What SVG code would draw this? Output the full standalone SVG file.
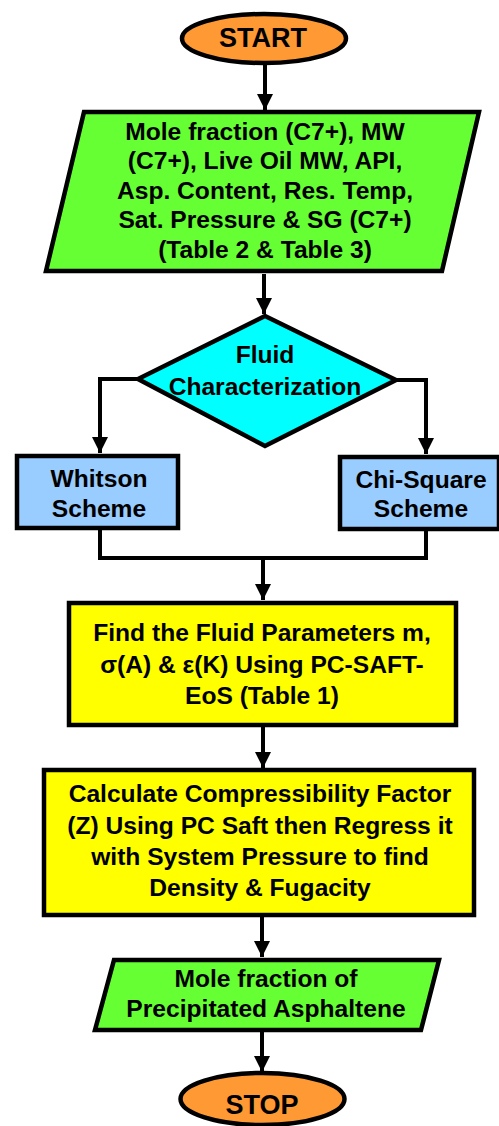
<svg xmlns="http://www.w3.org/2000/svg" width="499" height="1126" viewBox="0 0 499 1126">
<defs>
<marker id="ah" markerUnits="userSpaceOnUse" markerWidth="16" markerHeight="16" viewBox="0 0 16 16" refX="16" refY="8" orient="auto">
<path d="M0,0 L16,8 L0,16 z" fill="#000"/>
</marker>
<style>
.sh{stroke:#000;stroke-width:4.5;stroke-linejoin:miter}
.t{font-family:"Liberation Sans",Arial,sans-serif;font-weight:bold;font-size:24.6px;fill:#000;text-anchor:middle}
.c{fill:none;stroke:#000;stroke-width:4}
.term{fill:#FF9933}
.io{fill:#66FF33}
.proc{fill:#FFFF00}
.dec{fill:#00FFFF}
.sch{fill:#99CCFF}
</style>
</defs>
<rect width="499" height="1126" fill="#fff"/>
<g id="connectors">
<path class="c" d="M265,64 V110" marker-end="url(#ah)"/>
<path class="c" d="M264,274 V314" marker-end="url(#ah)"/>
<path class="c" d="M138,379 H100 V453" marker-end="url(#ah)"/>
<path class="c" d="M396,380 H426 V454" marker-end="url(#ah)"/>
<path class="c" d="M100,529 V558 H426 V530"/>
<path class="c" d="M263,558 V600" marker-end="url(#ah)"/>
<path class="c" d="M263,727 V768" marker-end="url(#ah)"/>
<path class="c" d="M262,916 V957" marker-end="url(#ah)"/>
<path class="c" d="M262,1032 V1072" marker-end="url(#ah)"/>
</g>
<g id="start">
<ellipse class="sh term" cx="264" cy="38.5" rx="82" ry="24.5"/>
<text class="t" x="263" y="47" style="font-size:27px">START</text>
</g>
<g id="input">
<polygon class="sh io" points="84,112 479,112 442,271 46,271"/>
<text class="t" x="265" y="139.5">Mole fraction (C7+), MW</text>
<text class="t" x="265" y="169">(C7+), Live Oil MW, API,</text>
<text class="t" x="265" y="198.5">Asp. Content, Res. Temp,</text>
<text class="t" x="265" y="228">Sat. Pressure &amp; SG (C7+)</text>
<text class="t" x="265" y="257.5">(Table 2 &amp; Table 3)</text>
</g>
<g id="decision">
<polygon class="sh dec" points="265,316 396,380 265,446 138,379"/>
<text class="t" x="265" y="363">Fluid</text>
<text class="t" x="265" y="395">Characterization</text>
</g>
<g id="whitson">
<rect class="sh sch" x="17" y="456" width="161" height="72"/>
<text class="t" x="99" y="487">Whitson</text>
<text class="t" x="99" y="517">Scheme</text>
</g>
<g id="chisquare">
<rect class="sh sch" x="340" y="457" width="159" height="72"/>
<text class="t" x="421" y="488">Chi-Square</text>
<text class="t" x="421" y="517">Scheme</text>
</g>
<g id="params">
<rect class="sh proc" x="69" y="603" width="387" height="122"/>
<text class="t" x="262" y="641">Find the Fluid Parameters m,</text>
<text class="t" x="262" y="672.5">σ(A) &amp; ε(K) Using PC-SAFT-</text>
<text class="t" x="262" y="704">EoS (Table 1)</text>
</g>
<g id="calc">
<rect class="sh proc" x="44" y="770" width="430" height="145"/>
<text class="t" x="260" y="802">Calculate Compressibility Factor</text>
<text class="t" x="260" y="833.5">(Z) Using PC Saft then Regress it</text>
<text class="t" x="260" y="865">with System Pressure to find</text>
<text class="t" x="260" y="896">Density &amp; Fugacity</text>
</g>
<g id="output">
<polygon class="sh io" points="114,960 439,960 421,1030 95,1030"/>
<text class="t" x="266" y="987">Mole fraction of</text>
<text class="t" x="266" y="1017">Precipitated Asphaltene</text>
</g>
<g id="stop">
<ellipse class="sh term" cx="262.5" cy="1099" rx="82" ry="26"/>
<text class="t" x="262" y="1114" style="font-size:27px">STOP</text>
</g>
</svg>
